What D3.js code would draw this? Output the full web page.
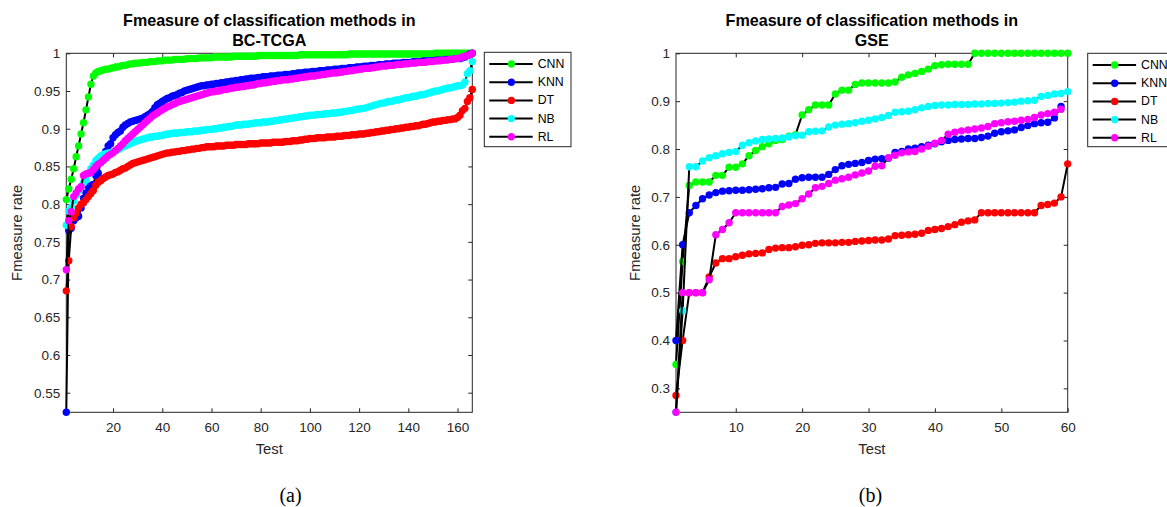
<!DOCTYPE html>
<html>
<head>
<meta charset="utf-8">
<script src="https://cdn.jsdelivr.net/npm/d3@7"></script>
<style>
  html, body { margin: 0; padding: 0; background: #fff; }
  svg { display: block; }
</style>
</head>
<body>
<svg id="chart" width="1167" height="507"></svg>
<script>
// ---------------- DATA ----------------
const seriesNames = ["CNN", "KNN", "DT", "NB", "RL"];
const seriesColors = ["#00ff00", "#0000ff", "#ff0000", "#00ffff", "#ff00ff"];

// (a) BC-TCGA, 166 tests
const tcgaCNN = [
0.806,0.820,0.833,0.847,0.863,0.877,0.893,0.908,0.925,0.942,
0.959,0.970,0.974,0.976,0.977,0.978,0.979,0.979,0.980,0.981,
0.982,0.982,0.983,0.984,0.984,0.985,0.986,0.986,0.987,0.987,
0.987,0.988,0.988,0.988,0.989,0.989,0.989,0.990,0.990,0.990,
0.991,0.991,0.991,0.991,0.992,0.992,0.992,0.992,0.992,0.993,
0.993,0.993,0.993,0.993,0.994,0.994,0.994,0.994,0.994,0.994,
0.995,0.995,0.995,0.995,0.995,0.995,0.995,0.995,0.996,0.996,
0.996,0.996,0.996,0.996,0.996,0.996,0.996,0.996,0.997,0.997,
0.997,0.997,0.997,0.997,0.997,0.997,0.997,0.997,0.997,0.997,
0.997,0.997,0.997,0.997,0.997,0.998,0.998,0.998,0.998,0.998,
0.998,0.998,0.998,0.998,0.998,0.998,0.998,0.998,0.998,0.998,
0.998,0.998,0.998,0.998,0.998,0.999,0.999,0.999,0.999,0.999,
0.999,0.999,0.999,0.999,0.999,0.999,0.999,0.999,0.999,0.999,
0.999,0.999,0.999,0.999,0.999,0.999,0.999,0.999,0.999,0.999,
0.999,0.999,0.999,0.999,0.999,0.999,0.999,0.999,0.999,0.999,
1.000,1.000,1.000,1.000,1.000,1.000,1.000,1.000,1.000,1.000,
1.000,1.000,1.000,1.000,1.000,1.000];
const tcgaKNN = [
0.524,0.765,0.768,0.778,0.782,0.784,0.795,0.808,0.815,0.823,
0.825,0.826,0.838,0.841,0.856,0.862,0.870,0.877,0.880,0.888,
0.892,0.895,0.897,0.902,0.905,0.907,0.909,0.910,0.911,0.912,
0.913,0.914,0.916,0.918,0.920,0.923,0.928,0.932,0.934,0.936,
0.938,0.940,0.941,0.943,0.944,0.945,0.947,0.948,0.950,0.951,
0.952,0.953,0.954,0.955,0.956,0.957,0.957,0.958,0.958,0.959,
0.959,0.960,0.960,0.961,0.961,0.962,0.962,0.963,0.963,0.964,
0.964,0.965,0.965,0.966,0.966,0.967,0.967,0.967,0.968,0.968,
0.969,0.969,0.969,0.970,0.970,0.970,0.971,0.971,0.971,0.972,
0.972,0.972,0.973,0.973,0.974,0.974,0.974,0.975,0.975,0.975,
0.976,0.976,0.976,0.977,0.977,0.977,0.978,0.978,0.978,0.979,
0.979,0.979,0.980,0.980,0.980,0.981,0.981,0.981,0.982,0.982,
0.982,0.983,0.983,0.983,0.984,0.984,0.984,0.985,0.985,0.985,
0.986,0.986,0.986,0.987,0.987,0.987,0.987,0.988,0.988,0.988,
0.988,0.989,0.989,0.989,0.989,0.990,0.990,0.990,0.990,0.990,
0.991,0.991,0.991,0.991,0.992,0.992,0.992,0.992,0.993,0.993,
0.993,0.994,0.995,0.997,0.999,1.000];
const tcgaDT = [
0.685,0.725,0.770,0.782,0.788,0.795,0.800,0.802,0.806,0.810,
0.814,0.818,0.825,0.829,0.831,0.834,0.836,0.838,0.839,0.840,
0.842,0.843,0.845,0.847,0.848,0.850,0.852,0.854,0.855,0.856,
0.857,0.858,0.859,0.860,0.861,0.862,0.863,0.864,0.865,0.866,
0.867,0.868,0.868,0.869,0.869,0.870,0.870,0.871,0.871,0.872,
0.872,0.873,0.873,0.874,0.874,0.875,0.875,0.876,0.876,0.876,
0.876,0.877,0.877,0.877,0.877,0.878,0.878,0.878,0.878,0.879,
0.879,0.879,0.879,0.879,0.880,0.880,0.880,0.880,0.880,0.881,
0.881,0.881,0.881,0.881,0.882,0.882,0.882,0.882,0.882,0.883,
0.883,0.883,0.884,0.884,0.884,0.885,0.885,0.886,0.886,0.887,
0.887,0.887,0.888,0.888,0.888,0.888,0.889,0.889,0.889,0.889,
0.890,0.890,0.890,0.891,0.891,0.891,0.892,0.892,0.892,0.893,
0.893,0.893,0.894,0.894,0.895,0.895,0.896,0.896,0.897,0.897,
0.898,0.898,0.899,0.899,0.900,0.900,0.901,0.901,0.902,0.902,
0.903,0.903,0.904,0.904,0.905,0.906,0.906,0.907,0.908,0.909,
0.909,0.910,0.910,0.911,0.911,0.912,0.912,0.913,0.913,0.915,
0.918,0.924,0.927,0.936,0.941,0.952];
const tcgaNB = [
0.772,0.791,0.796,0.804,0.812,0.818,0.823,0.828,0.832,0.840,
0.847,0.852,0.858,0.861,0.864,0.866,0.867,0.868,0.868,0.869,
0.871,0.872,0.874,0.876,0.877,0.879,0.880,0.882,0.883,0.884,
0.885,0.886,0.887,0.888,0.889,0.889,0.890,0.890,0.891,0.891,
0.892,0.893,0.893,0.894,0.894,0.894,0.895,0.895,0.895,0.896,
0.896,0.896,0.897,0.897,0.897,0.898,0.898,0.899,0.899,0.899,
0.900,0.900,0.901,0.901,0.902,0.902,0.903,0.903,0.904,0.905,
0.905,0.905,0.906,0.906,0.906,0.907,0.907,0.908,0.908,0.908,
0.909,0.909,0.909,0.910,0.910,0.911,0.911,0.912,0.912,0.913,
0.913,0.914,0.914,0.915,0.915,0.916,0.916,0.917,0.917,0.918,
0.918,0.918,0.919,0.919,0.919,0.920,0.920,0.920,0.921,0.921,
0.921,0.922,0.922,0.923,0.923,0.924,0.924,0.925,0.926,0.926,
0.927,0.927,0.928,0.929,0.930,0.931,0.932,0.933,0.934,0.934,
0.935,0.936,0.936,0.937,0.938,0.938,0.939,0.940,0.941,0.941,
0.942,0.943,0.943,0.944,0.945,0.945,0.946,0.947,0.948,0.949,
0.950,0.950,0.951,0.952,0.953,0.954,0.954,0.955,0.956,0.957,
0.957,0.958,0.962,0.973,0.977,0.989];
const tcgaRL = [
0.713,0.778,0.790,0.810,0.815,0.820,0.823,0.838,0.840,0.841,
0.842,0.846,0.850,0.853,0.855,0.858,0.861,0.864,0.866,0.868,
0.871,0.874,0.877,0.880,0.884,0.887,0.890,0.893,0.896,0.899,
0.902,0.905,0.908,0.911,0.914,0.917,0.919,0.921,0.923,0.925,
0.927,0.929,0.930,0.932,0.933,0.935,0.936,0.937,0.938,0.939,
0.940,0.941,0.942,0.943,0.944,0.945,0.946,0.947,0.948,0.949,
0.949,0.950,0.950,0.951,0.952,0.952,0.953,0.954,0.954,0.955,
0.955,0.956,0.956,0.957,0.957,0.958,0.958,0.959,0.960,0.960,
0.961,0.961,0.962,0.962,0.963,0.963,0.964,0.964,0.965,0.965,
0.965,0.966,0.966,0.967,0.967,0.968,0.968,0.969,0.969,0.970,
0.970,0.970,0.971,0.971,0.972,0.972,0.973,0.973,0.974,0.974,
0.974,0.975,0.975,0.976,0.976,0.977,0.977,0.978,0.978,0.979,
0.979,0.980,0.980,0.980,0.981,0.981,0.982,0.982,0.983,0.983,
0.983,0.984,0.984,0.984,0.985,0.985,0.985,0.986,0.986,0.986,
0.987,0.987,0.987,0.988,0.988,0.988,0.988,0.989,0.989,0.989,
0.990,0.990,0.990,0.991,0.991,0.991,0.992,0.992,0.993,0.993,
0.994,0.995,0.996,0.997,0.998,1.000];

// (b) GSE, up to 60 tests
const gseCNN = [
0.350,0.565,0.724,0.731,0.731,0.731,0.745,0.745,0.762,0.762,
0.769,0.786,0.797,0.805,0.811,0.818,0.820,0.827,0.830,0.871,
0.882,0.892,0.892,0.892,0.915,0.923,0.923,0.935,0.938,0.938,
0.938,0.938,0.938,0.940,0.950,0.955,0.958,0.962,0.967,0.974,
0.976,0.977,0.977,0.977,0.977,1.000,1.000,1.000,1.000,1.000,
1.000,1.000,1.000,1.000,1.000,1.000,1.000,1.000,1.000,1.000];
const gseKNN = [
0.400,0.600,0.667,0.682,0.696,0.704,0.709,0.712,0.713,0.714,
0.714,0.715,0.716,0.717,0.719,0.720,0.727,0.728,0.737,0.740,
0.741,0.741,0.741,0.747,0.757,0.765,0.768,0.770,0.772,0.776,
0.779,0.780,0.781,0.793,0.795,0.800,0.802,0.805,0.808,0.811,
0.815,0.818,0.820,0.821,0.822,0.822,0.824,0.827,0.833,0.836,
0.838,0.840,0.845,0.849,0.853,0.855,0.856,0.865,0.889];
const gseDT = [
0.285,0.400,0.500,0.500,0.500,0.533,0.562,0.571,0.571,0.575,
0.578,0.581,0.582,0.583,0.590,0.593,0.594,0.594,0.596,0.599,
0.600,0.603,0.604,0.604,0.604,0.605,0.605,0.607,0.608,0.609,
0.610,0.610,0.612,0.619,0.620,0.621,0.622,0.624,0.630,0.632,
0.634,0.638,0.642,0.647,0.650,0.652,0.667,0.667,0.667,0.667,
0.667,0.667,0.667,0.667,0.667,0.682,0.684,0.687,0.700,0.769];
const gseNB = [
0.250,0.462,0.763,0.763,0.775,0.782,0.786,0.790,0.793,0.795,
0.808,0.813,0.817,0.820,0.821,0.822,0.823,0.825,0.828,0.829,
0.836,0.837,0.838,0.846,0.850,0.852,0.853,0.855,0.858,0.860,
0.863,0.866,0.870,0.877,0.878,0.879,0.882,0.886,0.889,0.891,
0.892,0.892,0.893,0.893,0.893,0.894,0.894,0.895,0.895,0.896,
0.897,0.898,0.900,0.901,0.902,0.910,0.912,0.915,0.916,0.920];
const gseRL = [
0.250,0.500,0.500,0.500,0.500,0.527,0.621,0.632,0.646,0.667,
0.667,0.667,0.667,0.667,0.667,0.667,0.680,0.683,0.686,0.696,
0.706,0.719,0.722,0.728,0.735,0.738,0.741,0.746,0.750,0.754,
0.764,0.765,0.782,0.787,0.792,0.794,0.795,0.800,0.806,0.812,
0.818,0.831,0.835,0.838,0.840,0.842,0.844,0.847,0.853,0.855,
0.857,0.858,0.860,0.862,0.866,0.871,0.874,0.877,0.883];

// tick labels
const tcgaXTicks = [20, 40, 60, 80, 100, 120, 140, 160];
const tcgaYTicks = [0.55, 0.6, 0.65, 0.7, 0.75, 0.8, 0.85, 0.9, 0.95, 1];
const gseXTicks = [10, 20, 30, 40, 50, 60];
const gseYTicks = [0.3, 0.4, 0.5, 0.6, 0.7, 0.8, 0.9, 1];

const titleLine1 = "Fmeasure of classification methods in";
const panelTitles = ["BC-TCGA", "GSE"];
const xLabelText = "Test";
const yLabelText = "Fmeasure rate";
const captions = ["(a)", "(b)"];

// ---------------- DRAW ----------------
const svg = d3.select("#chart");
const AX = "#262626";
const FONT = "'Liberation Sans', Arial, Helvetica, sans-serif";

const panels = [
  { series: [tcgaCNN, tcgaKNN, tcgaDT, tcgaNB, tcgaRL], xTicks: tcgaXTicks, yTicks: tcgaYTicks,
    xMax: 166, left: 66.3, right: 472.3, top: 53.3, bottom: 412.3,
    title2: panelTitles[0], caption: captions[0], capX: 290.5, ylabX: 17,
    legX: 484.3, legY: 52.3, legW: 86.7, legH: 94.4 },
  { series: [gseCNN, gseKNN, gseDT, gseNB, gseRL], xTicks: gseXTicks, yTicks: gseYTicks,
    xMax: 60, left: 676, right: 1067.7, top: 53.3, bottom: 412.3,
    title2: panelTitles[1], caption: captions[1], capX: 870.5, ylabX: 635,
    legX: 1087.7, legY: 53.3, legW: 86.7, legH: 93.4 }
];

panels.forEach(p => {
  const all = p.series.flat();
  const x = d3.scaleLinear().domain([1, p.xMax]).range([p.left, p.right]);
  const y = d3.scaleLinear().domain([d3.min(all), d3.max(all)]).range([p.bottom, p.top]);
  const g = svg.append("g");

  // box
  g.append("rect").attr("x", p.left).attr("y", p.top)
    .attr("width", p.right - p.left).attr("height", p.bottom - p.top)
    .attr("fill", "none").attr("stroke", AX).attr("stroke-width", 1);

  // axes (inward ticks, mirrored)
  const tl = 4;
  const fmt = d => d3.format("")(+d.toFixed(2));
  const xb = g.append("g").attr("transform", `translate(0,${p.bottom})`)
    .call(d3.axisBottom(x).tickValues(p.xTicks).tickSize(-tl).tickPadding(10).tickFormat(d3.format("d")));
  const xt = g.append("g").attr("transform", `translate(0,${p.top})`)
    .call(d3.axisTop(x).tickValues(p.xTicks).tickSize(-tl).tickFormat(""));
  const yl = g.append("g").attr("transform", `translate(${p.left},0)`)
    .call(d3.axisLeft(y).tickValues(p.yTicks).tickSize(-tl).tickPadding(6).tickFormat(fmt));
  const yr = g.append("g").attr("transform", `translate(${p.right},0)`)
    .call(d3.axisRight(y).tickValues(p.yTicks).tickSize(-tl).tickFormat(""));
  [xb, xt, yl, yr].forEach(a => {
    a.select(".domain").remove();
    a.selectAll("line").attr("stroke", AX);
    a.selectAll("text").attr("fill", AX).style("font-family", FONT).style("font-size", "13.5px");
  });

  // series
  const line = d3.line().x((d, i) => x(i + 1)).y(d => y(d));
  p.series.forEach((s, k) => {
    g.append("path").datum(s).attr("d", line)
      .attr("fill", "none").attr("stroke", "#000").attr("stroke-width", 2)
      .attr("stroke-linejoin", "round");
    g.append("g").selectAll("circle").data(s).join("circle")
      .attr("cx", (d, i) => x(i + 1)).attr("cy", d => y(d))
      .attr("r", 3.7).attr("fill", seriesColors[k]);
  });

  // title
  const cx = (p.left + p.right) / 2;
  g.append("text").attr("x", cx).attr("y", 26).attr("text-anchor", "middle")
    .style("font-family", FONT).style("font-size", "16.1px").style("font-weight", "bold")
    .attr("fill", "#000").text(titleLine1);
  g.append("text").attr("x", cx).attr("y", 46).attr("text-anchor", "middle")
    .style("font-family", FONT).style("font-size", "16.1px").style("font-weight", "bold")
    .attr("fill", "#000").text(p.title2);

  // axis labels
  g.append("text").attr("x", cx).attr("y", 454).attr("text-anchor", "middle")
    .style("font-family", FONT).style("font-size", "14.8px").attr("fill", AX).text(xLabelText);
  g.append("text").attr("transform", `translate(${p.ylabX},${(p.top + p.bottom) / 2}) rotate(-90)`)
    .attr("text-anchor", "middle").attr("dominant-baseline", "central")
    .style("font-family", FONT).style("font-size", "14.8px").attr("fill", AX).text(yLabelText);

  // caption
  g.append("text").attr("x", p.capX).attr("y", 502).attr("text-anchor", "middle")
    .style("font-family", "'Liberation Serif', 'Times New Roman', serif").style("font-size", "20px")
    .attr("fill", "#000").text(p.caption);

  // legend
  const lg = g.append("g").attr("transform", `translate(${p.legX},${p.legY})`);
  lg.append("rect").attr("width", p.legW).attr("height", p.legH)
    .attr("fill", "#fff").attr("stroke", AX).attr("stroke-width", 1);
  seriesNames.forEach((n, k) => {
    const yy = 11.7 + k * 18.2;
    lg.append("line").attr("x1", 5).attr("x2", 48.4).attr("y1", yy).attr("y2", yy)
      .attr("stroke", "#000").attr("stroke-width", 2);
    lg.append("circle").attr("cx", 27).attr("cy", yy).attr("r", 3.7).attr("fill", seriesColors[k]);
    lg.append("text").attr("x", 53.4).attr("y", yy).attr("dominant-baseline", "central")
      .style("font-family", FONT).style("font-size", "12.3px").attr("fill", "#000").text(n);
  });
});
</script>
</body>
</html>
